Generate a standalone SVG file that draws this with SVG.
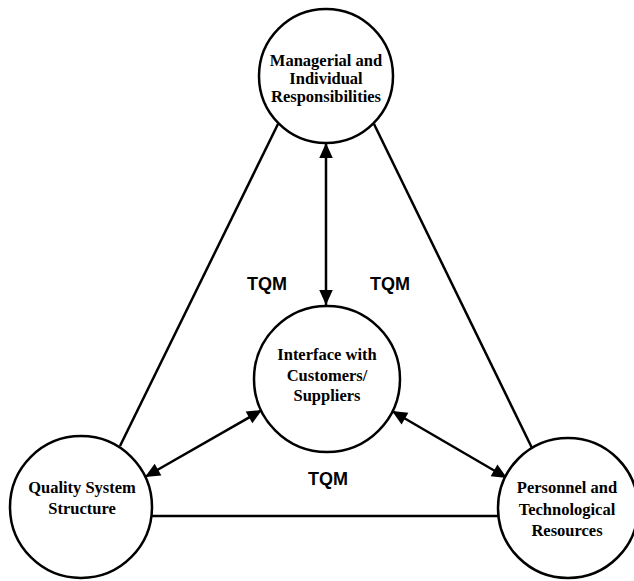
<svg xmlns="http://www.w3.org/2000/svg" width="634" height="581" viewBox="0 0 634 581">
<style>
.n{fill:#fff;stroke:#000;stroke-width:2.5}
.l{stroke:#000;stroke-width:2.5;fill:none}
.t{font-family:"Liberation Serif",serif;font-weight:bold;font-size:16.5px;text-anchor:middle;fill:#000}
.q{font-family:"Liberation Sans",sans-serif;font-weight:bold;font-size:18px;text-anchor:middle;fill:#000}
</style>
<defs>
<marker id="ah" viewBox="0 0 10 10" refX="10" refY="5" markerWidth="6.5" markerHeight="6" orient="auto-start-reverse" markerUnits="strokeWidth">
<path d="M0,0.5 L10,5 L0,9.5 z" fill="#000"/>
</marker>
</defs>
<g id="connectors">
<line class="l" x1="278" y1="124" x2="120" y2="446"/>
<line class="l" x1="374" y1="124" x2="532" y2="448"/>
<line class="l" x1="152" y1="516" x2="499" y2="516"/>
<line class="l" x1="326" y1="143" x2="326" y2="305" marker-start="url(#ah)" marker-end="url(#ah)"/>
<line class="l" x1="262" y1="410" x2="145" y2="477" marker-start="url(#ah)" marker-end="url(#ah)"/>
<line class="l" x1="392" y1="411" x2="507" y2="478" marker-start="url(#ah)" marker-end="url(#ah)"/>
</g>
<g id="top">
<circle class="n" cx="326" cy="76" r="67"/>
<text class="t" x="326" y="66">Managerial and</text>
<text class="t" x="326" y="84">Individual</text>
<text class="t" x="326" y="102">Responsibilities</text>
</g>
<g id="center">
<circle class="n" cx="327" cy="379" r="73"/>
<text class="t" x="327" y="360">Interface with</text>
<text class="t" x="327" y="381">Customers/</text>
<text class="t" x="327" y="401">Suppliers</text>
</g>
<g id="left">
<circle class="n" cx="81" cy="507" r="71"/>
<text class="t" x="82" y="493">Quality System</text>
<text class="t" x="82" y="514">Structure</text>
</g>
<g id="right">
<circle class="n" cx="568" cy="508" r="70"/>
<text class="t" x="567" y="493">Personnel and</text>
<text class="t" x="567" y="515">Technological</text>
<text class="t" x="567" y="536">Resources</text>
</g>
<g id="labels">
<text class="q" x="267" y="290">TQM</text>
<text class="q" x="390" y="290">TQM</text>
<text class="q" x="328" y="485">TQM</text>
</g>
</svg>
